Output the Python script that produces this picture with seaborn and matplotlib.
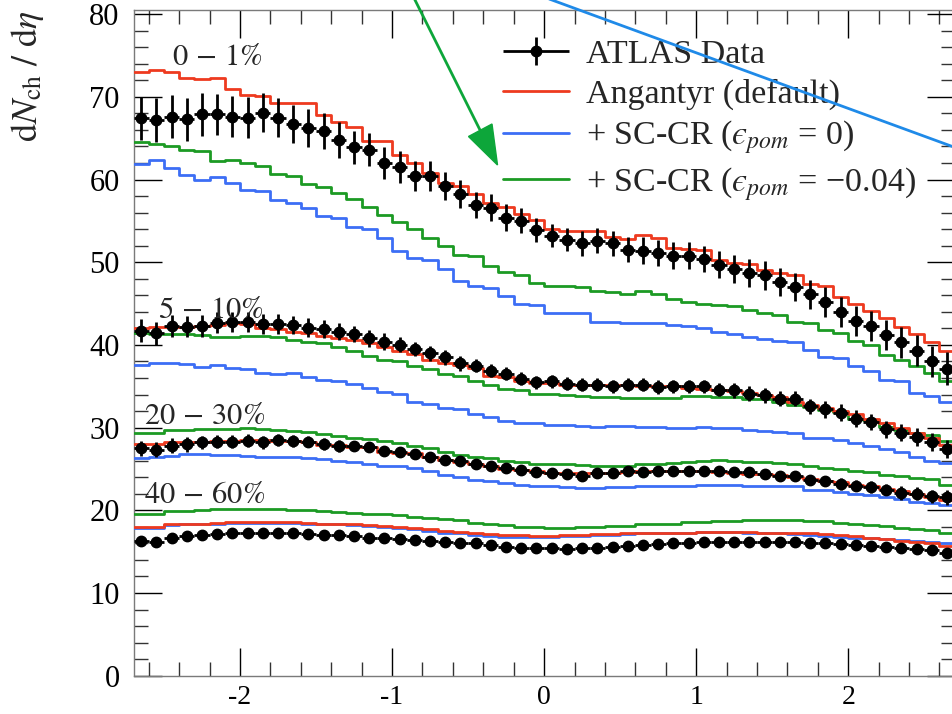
import numpy as np
import pandas as pd
import matplotlib
matplotlib.use("Agg")
import matplotlib.pyplot as plt
import seaborn as sns
from matplotlib.lines import Line2D
from matplotlib.patches import Polygon
from matplotlib.ticker import MultipleLocator
from matplotlib.container import ErrorbarContainer
from matplotlib.legend_handler import HandlerErrorbar

# ---------------------------------------------------------------- data
# pseudorapidity binning: 54 bins of width 0.1 between -2.7 and 2.7
eta_lo, eta_hi, eta_width = -2.7, 2.7, 0.1

centralities = ["0 - 1%", "5 - 10%", "20 - 30%", "40 - 60%"]

# ATLAS measurement, dNch/deta per bin
data_0_1 = [67.4, 67.2, 67.6, 67.3, 67.9, 67.9, 67.6, 67.5, 68.1, 67.5,
            66.7, 66.2, 65.9, 64.8, 63.9, 63.6, 62.0, 61.5, 60.4, 60.4,
            59.2, 58.3, 56.9, 56.6, 55.4, 55.0, 53.9, 53.2, 52.7, 52.3,
            52.6, 52.3, 51.5, 51.4, 51.1, 50.8, 50.8, 50.4, 49.7, 49.2,
            48.7, 48.4, 47.6, 47.0, 46.1, 45.2, 44.0, 42.9, 42.3, 41.2,
            40.3, 39.3, 38.0, 37.1]
data_5_10 = [41.7, 41.4, 42.3, 42.2, 42.3, 42.7, 42.8, 42.8, 42.5, 42.5,
             42.4, 42.1, 41.9, 41.6, 41.3, 40.8, 40.4, 40.0, 39.5, 39.0,
             38.5, 37.8, 37.5, 36.9, 36.5, 35.9, 35.5, 35.6, 35.3, 35.2,
             35.2, 35.0, 35.2, 35.2, 34.9, 35.0, 35.0, 35.0, 34.6, 34.5,
             34.1, 33.9, 33.5, 33.5, 32.6, 32.2, 31.8, 31.1, 30.7, 29.8,
             29.4, 28.9, 28.3, 27.4]
data_20_30 = [27.5, 27.3, 27.8, 28.0, 28.2, 28.3, 28.3, 28.4, 28.2, 28.5,
              28.4, 28.3, 28.0, 27.8, 27.8, 27.7, 27.2, 27.0, 26.8, 26.5,
              26.1, 26.0, 25.6, 25.3, 25.1, 24.9, 24.6, 24.5, 24.4, 24.2,
              24.5, 24.5, 24.7, 24.6, 24.7, 24.8, 24.7, 24.8, 24.8, 24.6,
              24.6, 24.4, 24.2, 24.1, 23.7, 23.5, 23.2, 23.0, 22.8, 22.5,
              22.1, 22.0, 21.7, 21.6]
data_40_60 = [16.3, 16.2, 16.7, 16.9, 17.0, 17.1, 17.3, 17.3, 17.2, 17.3,
              17.2, 17.1, 17.0, 17.0, 16.9, 16.7, 16.6, 16.5, 16.4, 16.3,
              16.2, 16.1, 16.0, 15.8, 15.6, 15.5, 15.4, 15.4, 15.3, 15.4,
              15.5, 15.6, 15.7, 15.8, 15.9, 16.0, 16.1, 16.2, 16.2, 16.2,
              16.2, 16.2, 16.2, 16.2, 16.1, 16.0, 15.9, 15.8, 15.7, 15.6,
              15.4, 15.3, 15.2, 14.8]

# total uncertainties of the measurement
err_0_1 = [2.6, 2.7, 2.6, 2.6, 2.6, 2.5, 2.5, 2.5, 2.4, 2.4,
           2.3, 2.3, 2.2, 2.2, 2.0, 2.0, 1.9, 1.9, 1.8, 1.8,
           1.7, 1.7, 1.6, 1.6, 1.6, 1.5, 1.4, 1.4, 1.4, 1.5,
           1.5, 1.5, 1.5, 1.6, 1.6, 1.6, 1.6, 1.6, 1.6, 1.7,
           1.7, 1.7, 1.7, 1.7, 1.7, 1.8, 1.8, 1.8, 1.8, 1.8,
           1.9, 1.9, 1.9, 2.0]
err_5_10 = [1.4, 1.4, 1.3, 1.3, 1.3, 1.3, 1.2, 1.2, 1.2, 1.2,
            1.1, 1.1, 1.1, 1.0, 1.0, 1.0, 1.0, 0.9, 0.9, 0.9,
            0.9, 0.9, 0.8, 0.8, 0.8, 0.8, 0.8, 0.8, 0.8, 0.8,
            0.8, 0.8, 0.8, 0.8, 0.8, 0.8, 0.8, 0.8, 0.8, 0.9,
            0.9, 0.9, 0.9, 0.9, 0.9, 1.0, 1.0, 1.0, 1.0, 1.0,
            1.0, 1.1, 1.1, 1.1]
err_20_30 = [0.9, 0.9, 0.9, 0.9, 0.8, 0.8, 0.8, 0.8, 0.8, 0.7,
             0.7, 0.7, 0.7, 0.7, 0.6, 0.6, 0.6, 0.6, 0.6, 0.6,
             0.5, 0.5, 0.5, 0.5, 0.5, 0.5, 0.5, 0.5, 0.5, 0.5,
             0.5, 0.5, 0.5, 0.5, 0.5, 0.5, 0.5, 0.5, 0.5, 0.6,
             0.6, 0.6, 0.6, 0.6, 0.6, 0.6, 0.7, 0.7, 0.7, 0.7,
             0.8, 0.8, 0.8, 0.9]
err_40_60 = [0.5, 0.5, 0.5, 0.5, 0.5, 0.4, 0.4, 0.4, 0.4, 0.4,
             0.4, 0.4, 0.4, 0.4, 0.3, 0.3, 0.3, 0.3, 0.3, 0.3,
             0.3, 0.3, 0.3, 0.3, 0.3, 0.3, 0.3, 0.3, 0.3, 0.3,
             0.3, 0.3, 0.3, 0.3, 0.3, 0.3, 0.3, 0.3, 0.3, 0.3,
             0.3, 0.3, 0.3, 0.3, 0.3, 0.4, 0.4, 0.4, 0.4, 0.4,
             0.4, 0.4, 0.5, 0.5]

# Angantyr (default)
ang_0_1 = [73.0, 73.3, 73.0, 72.3, 72.1, 72.3, 71.0, 70.2, 70.1, 69.3,
           69.3, 69.2, 67.8, 67.0, 66.3, 64.7, 64.6, 63.0, 62.0, 60.8,
           59.6, 59.2, 58.2, 57.2, 56.7, 55.8, 55.1, 54.0, 53.8, 53.8,
           53.8, 53.1, 52.8, 53.3, 52.9, 51.7, 51.6, 51.5, 50.3, 49.9,
           49.8, 49.1, 48.7, 48.4, 47.4, 47.1, 45.8, 45.0, 44.1, 43.2,
           42.2, 41.3, 40.3, 39.3]
ang_5_10 = [42.1, 42.2, 42.2, 42.2, 42.3, 42.4, 42.6, 42.5, 42.0, 41.9,
            41.6, 41.4, 41.1, 40.8, 40.6, 40.2, 39.8, 39.3, 38.9, 38.2,
            37.8, 37.6, 37.2, 36.3, 36.1, 35.6, 35.4, 35.4, 35.2, 35.2,
            35.2, 35.1, 35.1, 35.0, 35.0, 35.0, 34.8, 34.7, 34.6, 34.4,
            34.2, 33.9, 33.7, 33.1, 32.7, 32.4, 32.0, 31.6, 31.1, 30.5,
            30.0, 29.4, 28.8, 27.9]
ang_20_30 = [28.0, 28.0, 28.2, 28.3, 28.3, 28.4, 28.4, 28.5, 28.5, 28.4,
             28.4, 28.2, 27.9, 27.9, 27.7, 27.7, 27.1, 26.9, 26.9, 26.5,
             26.1, 25.9, 25.6, 25.3, 25.0, 24.9, 24.8, 24.5, 24.5, 24.5,
             24.5, 24.5, 24.6, 24.7, 24.7, 24.7, 24.8, 24.7, 24.6, 24.5,
             24.4, 24.4, 24.3, 24.0, 23.8, 23.5, 23.4, 23.1, 22.9, 22.6,
             22.3, 22.0, 21.6, 21.2]
ang_40_60 = [18.0, 18.0, 18.3, 18.4, 18.4, 18.5, 18.6, 18.6, 18.6, 18.6,
             18.6, 18.5, 18.4, 18.4, 18.3, 18.2, 18.1, 18.0, 17.9, 17.7,
             17.5, 17.4, 17.3, 17.1, 17.0, 17.0, 16.9, 16.9, 17.0, 17.0,
             17.1, 17.1, 17.2, 17.2, 17.3, 17.3, 17.3, 17.4, 17.4, 17.4,
             17.4, 17.3, 17.3, 17.3, 17.2, 17.1, 17.0, 16.9, 16.7, 16.5,
             16.3, 16.2, 16.0, 15.7]

# + SC-CR, eps_pom = 0
sc0_0_1 = [61.9, 62.4, 61.4, 60.5, 60.0, 60.3, 59.6, 58.7, 58.6, 57.5,
           57.2, 56.5, 55.6, 55.3, 54.2, 54.0, 52.9, 51.4, 50.5, 50.3,
           49.2, 47.7, 47.1, 46.9, 45.9, 45.0, 44.8, 43.9, 43.8, 43.8,
           42.8, 42.8, 42.7, 42.6, 42.6, 42.4, 42.3, 42.0, 41.6, 41.3,
           41.0, 40.7, 40.5, 40.3, 39.4, 38.5, 38.4, 37.4, 36.9, 35.8,
           35.6, 34.2, 33.8, 33.1]
sc0_5_10 = [37.6, 37.8, 37.8, 37.7, 37.3, 37.6, 37.2, 37.1, 36.6, 36.5,
            36.6, 36.1, 35.8, 35.6, 35.3, 34.8, 34.3, 34.1, 33.1, 32.8,
            32.4, 32.2, 31.6, 31.3, 30.8, 30.6, 30.5, 30.3, 30.3, 30.2,
            30.1, 30.2, 30.2, 30.1, 30.1, 30.0, 30.0, 30.1, 29.9, 29.9,
            29.7, 29.6, 29.5, 29.3, 28.8, 28.7, 28.5, 28.1, 27.8, 27.4,
            27.0, 26.4, 26.0, 25.7]
sc0_20_30 = [26.3, 26.5, 26.6, 26.8, 26.8, 26.7, 26.7, 26.6, 26.5, 26.5,
             26.4, 26.3, 26.2, 26.0, 25.9, 25.6, 25.4, 25.3, 25.1, 24.7,
             24.3, 24.0, 23.7, 23.5, 23.3, 23.1, 23.0, 22.9, 22.8, 22.7,
             22.7, 22.8, 22.8, 22.9, 22.9, 23.0, 23.0, 23.1, 23.1, 23.1,
             23.0, 23.0, 22.9, 22.9, 22.5, 22.4, 22.2, 22.0, 21.8, 21.6,
             21.4, 21.0, 20.9, 20.6]
sc0_40_60 = [17.9, 17.9, 18.2, 18.3, 18.3, 18.4, 18.5, 18.5, 18.5, 18.5,
             18.5, 18.4, 18.3, 18.3, 18.2, 18.1, 18.0, 17.9, 17.7, 17.5,
             17.3, 17.2, 17.0, 16.9, 16.8, 16.8, 16.8, 16.8, 16.9, 16.9,
             17.0, 17.0, 17.1, 17.2, 17.3, 17.3, 17.3, 17.4, 17.4, 17.4,
             17.3, 17.3, 17.2, 17.1, 17.0, 16.9, 16.8, 16.7, 16.6, 16.5,
             16.4, 16.3, 16.2, 16.1]

# + SC-CR, eps_pom = -0.04
sc4_0_1 = [64.5, 64.3, 64.0, 63.6, 63.4, 62.3, 62.4, 62.0, 61.6, 60.7,
           60.4, 59.5, 59.1, 58.4, 57.7, 56.7, 55.7, 54.9, 54.0, 52.9,
           52.0, 50.9, 50.7, 49.6, 48.8, 48.5, 47.5, 47.1, 47.1, 47.0,
           46.5, 46.4, 46.1, 46.5, 46.1, 45.6, 45.2, 45.0, 44.8, 44.7,
           44.2, 43.9, 43.6, 42.8, 42.6, 41.8, 41.5, 40.5, 40.0, 38.8,
           38.2, 37.5, 36.6, 35.6]
sc4_5_10 = [41.4, 41.3, 41.3, 41.3, 41.2, 41.0, 41.0, 41.1, 41.1, 40.9,
            40.6, 40.4, 40.2, 39.8, 39.3, 38.7, 38.2, 38.0, 37.4, 37.1,
            36.5, 36.3, 35.6, 35.1, 34.7, 34.5, 34.1, 34.1, 33.9, 33.8,
            33.7, 33.7, 33.6, 33.6, 33.6, 33.6, 33.8, 33.8, 33.7, 33.7,
            33.4, 33.4, 33.1, 32.7, 32.5, 32.1, 31.9, 31.1, 30.9, 30.1,
            29.7, 29.3, 29.1, 28.4]
sc4_20_30 = [29.4, 29.4, 29.7, 29.7, 29.8, 29.8, 29.8, 29.9, 29.8, 29.7,
             29.6, 29.5, 29.2, 29.0, 28.8, 28.6, 28.4, 28.1, 27.8, 27.5,
             27.1, 26.7, 26.5, 26.3, 26.0, 25.8, 25.6, 25.6, 25.6, 25.5,
             25.4, 25.4, 25.4, 25.6, 25.6, 25.7, 25.8, 26.0, 26.1, 26.0,
             25.9, 25.8, 25.7, 25.6, 25.4, 25.1, 25.0, 24.7, 24.6, 24.3,
             24.2, 23.9, 23.8, 23.1]
sc4_40_60 = [19.6, 19.6, 19.9, 19.9, 20.0, 20.1, 20.1, 20.2, 20.2, 20.1,
             20.0, 20.0, 19.9, 19.8, 19.7, 19.6, 19.5, 19.4, 19.2, 19.1,
             18.9, 18.8, 18.5, 18.3, 18.2, 18.0, 18.0, 17.9, 17.9, 18.0,
             18.0, 18.1, 18.1, 18.4, 18.4, 18.4, 18.6, 18.6, 18.7, 18.7,
             18.8, 18.8, 18.8, 18.8, 18.7, 18.7, 18.5, 18.4, 18.2, 18.1,
             17.9, 17.7, 17.6, 17.3]

model_labels = ["Angantyr (default)",
                "+ SC-CR ($\u03f5_{pom}$ = 0)",
                "+ SC-CR ($\u03f5_{pom}$ = \u22120.04)"]
model_colors = ["#ee3a1f", "#3c6ef5", "#1c9a24"]

measurement = {
    "0 - 1%": (data_0_1, err_0_1),
    "5 - 10%": (data_5_10, err_5_10),
    "20 - 30%": (data_20_30, err_20_30),
    "40 - 60%": (data_40_60, err_40_60),
}
predictions = {
    "0 - 1%": (ang_0_1, sc0_0_1, sc4_0_1),
    "5 - 10%": (ang_5_10, sc0_5_10, sc4_5_10),
    "20 - 30%": (ang_20_30, sc0_20_30, sc4_20_30),
    "40 - 60%": (ang_40_60, sc0_40_60, sc4_40_60),
}

# ---------------------------------------------------------------- frames
n_bins = len(data_0_1)
edges = np.round(np.linspace(eta_lo, eta_hi, n_bins + 1), 3)
centers = 0.5 * (edges[:-1] + edges[1:])

step_rows = []
for cent, series in predictions.items():
    for label, vals in zip(model_labels, series):
        padded = list(vals) + [vals[-1]]
        for e, v in zip(edges, padded):
            step_rows.append((cent, label, e, v))
steps = pd.DataFrame(step_rows, columns=["centrality", "model", "eta", "dndeta"])

# ---------------------------------------------------------------- style
sns.set_style("ticks")
plt.rcParams.update({
    "font.family": ["Liberation Serif", "DejaVu Serif"],
    "mathtext.fontset": "stix",
    "axes.unicode_minus": False,
    "axes.edgecolor": "#7a7a7a",
    "axes.linewidth": 1.0,
    "xtick.color": "black",
    "ytick.color": "black",
})

W, H = 953, 714
fig = plt.figure(figsize=(W / 100, H / 100), dpi=100)
ax = fig.add_axes([133.5 / W, (H - 675.7) / H, (954.7 - 133.5) / W, (675.7 - 10) / H])

palette = dict(zip(model_labels, model_colors))
draw_order = [model_labels[1], model_labels[2], model_labels[0]]
for cent in centralities:
    sub = steps[steps["centrality"] == cent]
    for label in draw_order:
        sns.lineplot(data=sub[sub["model"] == label], x="eta", y="dndeta",
                     color=palette[label], drawstyle="steps-post",
                     estimator=None, sort=False, lw=2.0, ax=ax, legend=False,
                     zorder=3)

data_handle = None
for cent in centralities:
    vals, errs = measurement[cent]
    eb = ax.errorbar(centers, vals, yerr=errs, xerr=eta_width / 2,
                     fmt="o", color="black", ms=7.5, elinewidth=2.0,
                     capsize=0, zorder=5)
    if data_handle is None:
        data_handle = eb

# centrality labels
label_pos = {"0 - 1%": (-2.45, 73.85), "5 - 10%": (-2.54, 43.2),
             "20 - 30%": (-2.63, 30.4), "40 - 60%": (-2.63, 20.85)}
for cent in centralities:
    lo, hi = cent.replace("%", "").split(" - ")
    x, y = label_pos[cent]
    ax.text(x, y, rf"${lo}\,-\,{hi}\%$", fontsize=22, ha="left",
            va="baseline", zorder=6)

ax.set_xlim(eta_lo, eta_hi)
ax.set_ylim(0, 80.5)
ax.xaxis.set_major_locator(MultipleLocator(1))
ax.xaxis.set_minor_locator(MultipleLocator(0.2))
ax.yaxis.set_major_locator(MultipleLocator(10))
ax.yaxis.set_minor_locator(MultipleLocator(2))
ax.tick_params(which="both", direction="in", top=True, right=True)
ax.tick_params(which="major", length=20, width=1.0)
ax.tick_params(axis="y", which="major", labelsize=22, pad=10)
ax.tick_params(axis="x", which="major", labelsize=20, pad=7)
ax.tick_params(which="minor", length=10, width=1.0, color="#333333")
ax.set_xlabel("")
ax.set_ylabel("")

fig.text(28 / W, 1 - 11 / H, r"$\mathrm{d}N_{\mathrm{ch}}\ /\ \mathrm{d}\eta$",
         rotation=90, ha="center", va="top", fontsize=26)

handles = [data_handle] + [Line2D([], [], color=c, lw=2.0) for c in model_colors]
labels = ["ATLAS Data"] + model_labels
leg = ax.legend(handles, labels, loc="upper left",
                bbox_to_anchor=(503 / W, 1 - 39 / H),
                bbox_transform=fig.transFigure, frameon=False, fontsize=24.5,
                handlelength=1.95, handletextpad=0.5, labelspacing=0.26,
                borderpad=0, borderaxespad=0,
                handler_map={ErrorbarContainer: HandlerErrorbar(xerr_size=0.975,
                                                                yerr_size=0.4)})
leg.set_zorder(7)


def fx(px):
    return px / W


def fy(py):
    return 1 - py / H


# annotation arrows crossing the top of the frame
fig.add_artist(Line2D([fx(413), fx(482)], [fy(-4), fy(134)], color="#0da63a",
                      lw=2.0, transform=fig.transFigure, zorder=10))
fig.add_artist(Polygon([(fx(497.5), fy(165)), (fx(468.5), fy(136.5)),
                        (fx(492), fy(124))], closed=True,
                       transform=fig.transFigure, facecolor="#0da63a",
                       edgecolor="#0da63a", zorder=10))
fig.add_artist(Line2D([fx(541), fx(960)], [fy(-4), fy(149.3)], color="#1f8ae8",
                      lw=2.0, transform=fig.transFigure, zorder=10))

fig.savefig("out.png", dpi=100)
